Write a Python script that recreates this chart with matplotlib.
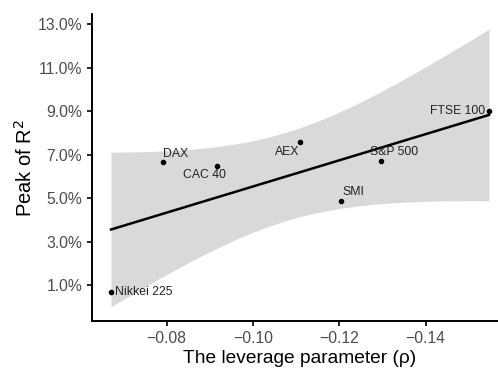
import matplotlib.pyplot as plt
import numpy as np
from matplotlib.ticker import FuncFormatter

plt.rcParams['font.family'] = ['Liberation Sans', 'DejaVu Sans']

# data
names = ["Nikkei 225", "DAX", "CAC 40", "AEX", "SMI", "S&P 500", "FTSE 100"]
rho = [-0.0671, -0.0791, -0.0917, -0.1109, -0.1205, -0.1297, -0.1547]
peak_r2 = [0.68, 6.66, 6.46, 7.58, 4.88, 6.69, 8.99]   # in %

# label offsets in pixels (dx, dy) and alignment
offsets = [(4, 0), (0, 8), (-13, -9), (-13, -10), (12, 9), (13, 9), (-4, 0)]
aligns = ["left", "left", "center", "center", "center", "center", "right"]

x = np.array(rho)
y = np.array(peak_r2)

# linear fit with 95% confidence band (like geom_smooth(method="lm"))
n = len(x)
b1, b0 = np.polyfit(x, y, 1)
resid = y - (b0 + b1 * x)
s = np.sqrt(np.sum(resid ** 2) / (n - 2))
t_crit = 2.570582  # t(0.975, df=5)
xs = np.linspace(x.min(), x.max(), 100)
ys = b0 + b1 * xs
se = s * np.sqrt(1 / n + (xs - x.mean()) ** 2 / np.sum((x - x.mean()) ** 2))

fig = plt.figure(figsize=(4.98, 3.69), dpi=100)
ax = fig.add_axes([92 / 498, 48 / 369, 416 / 498, 307 / 369])

ax.fill_between(xs, ys - t_crit * se, ys + t_crit * se, color="#d9d9d9", lw=0)
ax.plot(xs, ys, color="black", lw=1.8)
ax.scatter(x, y, s=9, color="black", zorder=3)

for nm, xi, yi, off, ha in zip(names, rho, peak_r2, offsets, aligns):
    ax.annotate(nm, (xi, yi), xytext=off, textcoords="offset pixels",
                ha=ha, va="center", fontsize=8.8, color="#222222")

ax.set_xlim(-0.0627, -0.1591)
ax.set_ylim(-0.655, 13.46)
ax.set_xticks([-0.08, -0.10, -0.12, -0.14])
ax.set_yticks([1, 3, 5, 7, 9, 11, 13])
ax.xaxis.set_major_formatter(FuncFormatter(lambda v, p: "\u2212%.2f" % abs(v)))
ax.yaxis.set_major_formatter(FuncFormatter(lambda v, p: "%.1f%%" % v))

for side in ["top", "right"]:
    ax.spines[side].set_visible(False)
for side in ["left", "bottom"]:
    ax.spines[side].set_linewidth(1.4)
ax.tick_params(length=3.5, width=1.2, labelsize=11.3, labelcolor="#4d4d4d")

ax.set_xlabel("The leverage parameter (\u03c1)", fontsize=13.8, labelpad=3)
ax.set_ylabel("Peak of R$^2$", fontsize=14.5, labelpad=1)

fig.savefig("out.png", dpi=100)
